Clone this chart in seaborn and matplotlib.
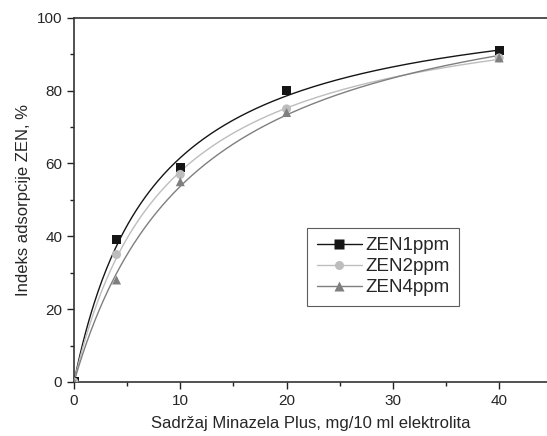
import numpy as np
import pandas as pd
import matplotlib
matplotlib.use("Agg")
import matplotlib.pyplot as plt
import seaborn as sns
from matplotlib.ticker import MultipleLocator
from matplotlib.lines import Line2D

# data
doza = [0, 4, 10, 20, 40]
zen1 = [0, 39, 59, 80, 91]
zen2 = [0, 35, 57, 75, 89]
zen4 = [0, 28, 55, 74, 89]
serije = ["ZEN1ppm", "ZEN2ppm", "ZEN4ppm"]
boje = ["#151515", "#bdbdbd", "#7f7f7f"]
markeri = ["s", "o", "^"]

sns.set_style("ticks")
plt.rcParams['font.family'] = ['Liberation Sans', 'DejaVu Sans']

df = pd.DataFrame({"x": doza * 3,
                   "y": zen1 + zen2 + zen4,
                   "serija": np.repeat(serije, len(doza))})

def langmuir_fit(x, y):
    # y = a*x/(b+x), grid over b, closed form a
    x = np.asarray(x, float); y = np.asarray(y, float)
    best = None
    for b in np.linspace(0.5, 40, 4000):
        g = x / (b + x)
        a = (g @ y) / (g @ g)
        err = ((a * g - y) ** 2).sum()
        if best is None or err < best[0]:
            best = (err, a, b)
    return best[1], best[2]

fig = plt.figure(figsize=(5.47, 4.36), dpi=100)
ax = fig.add_axes([0.1353, 0.124, 0.8647, 0.835])

xx = np.linspace(0, 40, 300)
for ser, c, m in zip(serije, boje, markeri):
    d = df[df.serija == ser]
    a, b = langmuir_fit(d.x, d.y)
    fit = pd.DataFrame({"x": xx, "y": a * xx / (b + xx)})
    sns.lineplot(data=fit, x="x", y="y", color=c, lw=1.0, ax=ax)
    sns.scatterplot(data=d, x="x", y="y", color=c, marker=m, s=42,
                    edgecolor="none", ax=ax, zorder=3)

handles = [Line2D([0], [0], color=c, marker=m, markersize=6.5, lw=1.0,
                  markeredgecolor="none") for c, m in zip(boje, markeri)]
leg = ax.legend(handles, serije, loc="upper left", bbox_to_anchor=(0.493, 0.423),
                borderaxespad=0, frameon=True, fancybox=False, fontsize=13.5,
                handlelength=2.4, borderpad=0.5, labelspacing=0.2,
                handletextpad=0.2)
leg.get_frame().set_edgecolor("#333333")
leg.get_frame().set_linewidth(0.8)

ax.set_xlim(0, 44.5)
ax.set_ylim(0, 100)
ax.xaxis.set_major_locator(MultipleLocator(10))
ax.xaxis.set_minor_locator(MultipleLocator(5))
ax.yaxis.set_major_locator(MultipleLocator(20))
ax.yaxis.set_minor_locator(MultipleLocator(10))
ax.tick_params(which="major", length=5, width=1.0, labelsize=11, color="#222222")
ax.tick_params(which="minor", length=3, width=1.0, color="#222222")
for s in ["left", "bottom", "top"]:
    ax.spines[s].set_linewidth(1.2)
    ax.spines[s].set_color("#333333")
ax.spines["right"].set_visible(False)

ax.set_xlabel("Sadržaj Minazela Plus, mg/10 ml elektrolita", fontsize=12, labelpad=6)
ax.set_ylabel("Indeks adsorpcije ZEN, %", fontsize=12)

fig.savefig("out.png", dpi=100)
